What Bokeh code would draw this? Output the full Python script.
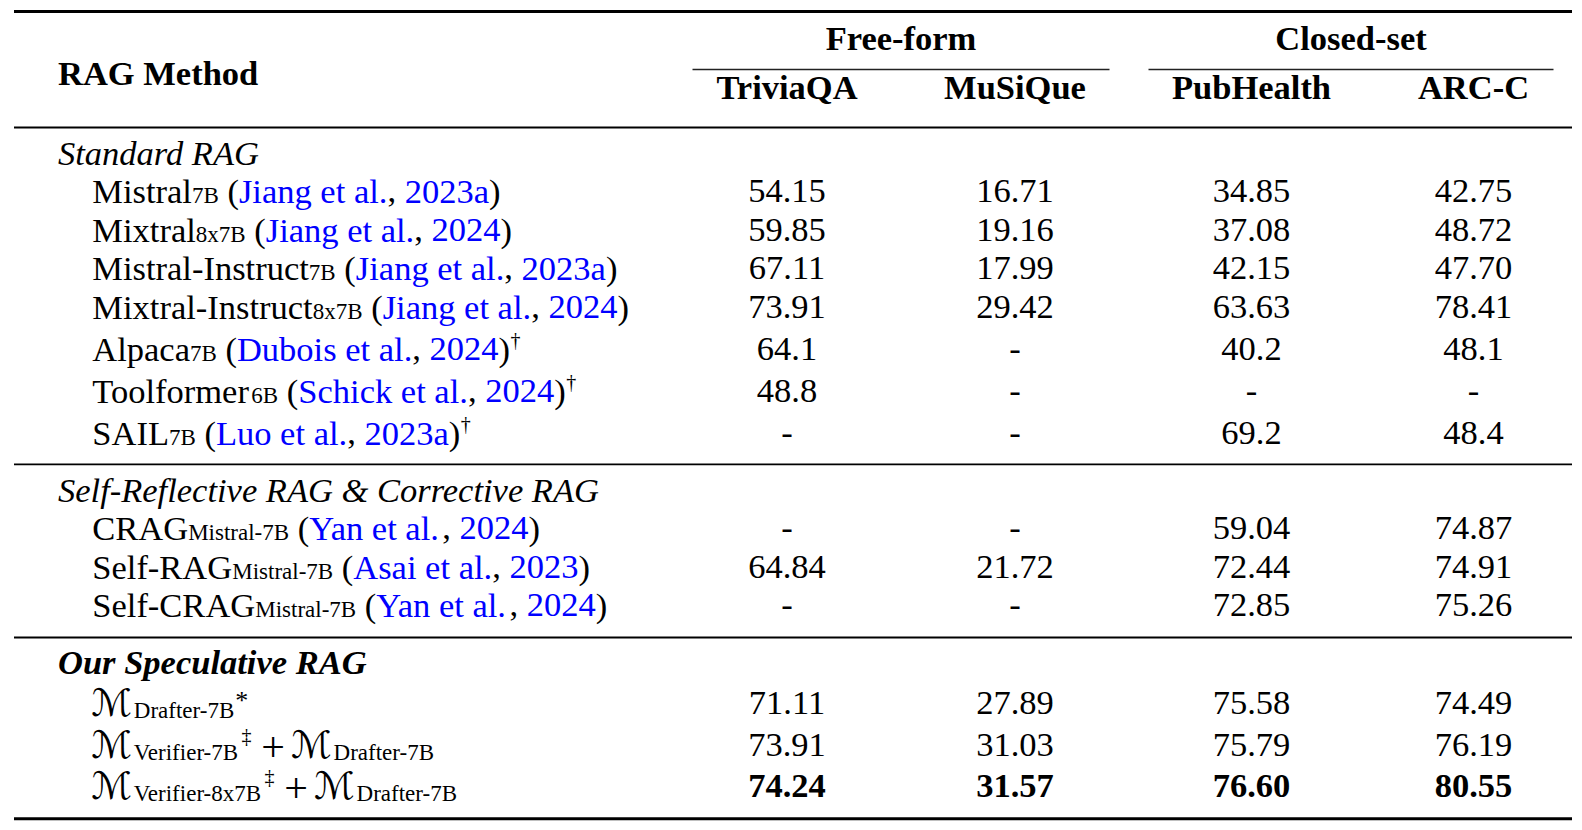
from bokeh.plotting import figure
from bokeh.models import Range1d, ColumnDataSource
from bokeh.core.properties import value
from bokeh.embed import file_html
from bokeh.resources import INLINE

# ---------------- data ----------------
group_headers = ["Free-form", "Closed-set"]
dataset_headers = ["TriviaQA", "MuSiQue", "PubHealth", "ARC-C"]
row_header = "RAG Method"
section_titles = ["Standard RAG", "Self-Reflective RAG & Corrective RAG", "Our Speculative RAG"]

baseline_models = ["Mistral", "Mixtral", "Mistral-Instruct", "Mixtral-Instruct", "Alpaca",
                   "Toolformer", "SAIL", "CRAG", "Self-RAG", "Self-CRAG"]
baseline_sizes = ["7B", "8x7B", "7B", "8x7B", "7B", "6B", "7B",
                  "Mistral-7B", "Mistral-7B", "Mistral-7B"]
cite_authors = ["Jiang et al.", "Jiang et al.", "Jiang et al.", "Jiang et al.", "Dubois et al.",
                "Schick et al.", "Luo et al.", "Yan et al.", "Asai et al.", "Yan et al."]
cite_years = ["2023a", "2024", "2023a", "2024", "2024", "2024", "2023a", "2024", "2023", "2024"]
cite_marks = ["", "", "", "", "†", "†", "†", "", "", ""]

ours_symbol = "ℳ"
ours_verifiers = ["", "Verifier-7B", "Verifier-8x7B"]
ours_verifier_marks = ["", "‡", "‡"]
ours_drafter = "Drafter-7B"
ours_drafter_mark = "*"

triviaqa = ["54.15", "59.85", "67.11", "73.91", "64.1", "48.8", "-", "-", "64.84", "-",
            "71.11", "73.91", "74.24"]
musique = ["16.71", "19.16", "17.99", "29.42", "-", "-", "-", "-", "21.72", "-",
           "27.89", "31.03", "31.57"]
pubhealth = ["34.85", "37.08", "42.15", "63.63", "40.2", "-", "69.2", "59.04", "72.44", "72.85",
             "75.58", "75.79", "76.60"]
arc_c = ["42.75", "48.72", "47.70", "78.41", "48.1", "-", "48.4", "74.87", "74.91", "75.26",
         "74.49", "76.19", "80.55"]
best_row = 12

# ---------------- layout ----------------
SERIF = "Liberation Serif"
F = 34.5     # main text size (px)
FS = 23.0    # subscript size
FD = 20.0    # dagger superscript size

TIMES = {' ': 250, '(': 333, ')': 333, ',': 250, '-': 333, '.': 250, '*': 500, '+': 564,
         '†': 500, '‡': 500,
         'A': 722, 'B': 667, 'C': 667, 'D': 722, 'E': 611, 'F': 556, 'G': 722, 'H': 722,
         'I': 333, 'J': 389, 'K': 722, 'L': 611, 'M': 889, 'N': 722, 'O': 722, 'P': 556,
         'Q': 722, 'R': 667, 'S': 556, 'T': 611, 'U': 722, 'V': 722, 'W': 944, 'X': 722,
         'Y': 722, 'Z': 611,
         'a': 444, 'b': 500, 'c': 444, 'd': 500, 'e': 444, 'f': 333, 'g': 500, 'h': 500,
         'i': 278, 'j': 278, 'k': 500, 'l': 278, 'm': 778, 'n': 500, 'o': 500, 'p': 500,
         'q': 500, 'r': 333, 's': 389, 't': 278, 'u': 500, 'v': 500, 'w': 722, 'x': 500,
         'y': 500, 'z': 444}
for d in "0123456789":
    TIMES[d] = 500


def tw(s, size):
    return sum(TIMES.get(c, 500) for c in s) * size / 1000.0


SPACE = tw(" ", F)
TEXT_DY = -12.2
X_LEFT = 57.5
X_IND = 91.8
RULE_X0, RULE_X1 = 13.5, 1571.5
COL_X = [786.5, 1014.5, 1251.0, 1473.0]
GROUP_SPANS = [(692.0, 1109.0), (1148.0, 1553.0)]
Y_GROUP, Y_RAGM, Y_COLH = 50.0, 85.0, 99.0
Y_CMID = 69.0
SECTION_Y = [165.0, 501.7, 673.3]
ROW_Y = [203.0, 241.5, 280.0, 319.0, 361.0, 403.0, 445.0,
         540.0, 578.3, 616.7,
         715.0, 756.5, 798.0]
HEAVY_RULES = [11.0, 818.3]
MID_RULES = [127.0, 463.8, 637.0]

STYLES = {
    'main':  dict(font=SERIF, size=F, fstyle='normal', color='black', align='left'),
    'cite':  dict(font=SERIF, size=F, fstyle='normal', color='#0000FF', align='left'),
    'sub':   dict(font=SERIF, size=FS, fstyle='normal', color='black', align='left'),
    'sup':   dict(font=SERIF, size=FD, fstyle='normal', color='black', align='left'),
    'star':  dict(font=SERIF, size=26, fstyle='normal', color='black', align='left'),
    'plus':  dict(font=SERIF, size=42, fstyle='normal', color='black', align='center'),
    'cal':   dict(font="DejaVu Sans", size=38, fstyle='normal', color='black', align='left'),
    'ital':  dict(font=SERIF, size=F, fstyle='italic', color='black', align='left'),
    'bital': dict(font=SERIF, size=F, fstyle='bold italic', color='black', align='left'),
    'bold':  dict(font=SERIF, size=F, fstyle='bold', color='black', align='left'),
    'boldc': dict(font=SERIF, size=F, fstyle='bold', color='black', align='center'),
    'numc':  dict(font=SERIF, size=F, fstyle='normal', color='black', align='center'),
    'numbc': dict(font=SERIF, size=F, fstyle='bold', color='black', align='center'),
}
segs = {k: dict(x=[], y=[], text=[]) for k in STYLES}


def put(style, x, y, text):
    segs[style]['x'].append(x)
    segs[style]['y'].append(y + TEXT_DY)
    segs[style]['text'].append(text)


# headers
for name, (a, b) in zip(group_headers, GROUP_SPANS):
    put('boldc', (a + b) / 2.0, Y_GROUP, name)
put('bold', X_LEFT, Y_RAGM, row_header)
for name, cx in zip(dataset_headers, COL_X):
    put('boldc', cx, Y_COLH, name)

# section titles
put('ital', X_LEFT, SECTION_Y[0], section_titles[0])
put('ital', X_LEFT, SECTION_Y[1], section_titles[1])
put('bital', X_LEFT, SECTION_Y[2], section_titles[2])

# baseline method names with citations
SUB_DY = 4.5
SUP_DY = -9.0
for i, model in enumerate(baseline_models):
    y = ROW_Y[i]
    x = X_IND
    put('main', x, y, model); x += tw(model, F)
    put('sub', x, y + SUB_DY, baseline_sizes[i]); x += tw(baseline_sizes[i], FS)
    x += SPACE
    put('main', x, y, "("); x += tw("(", F)
    put('cite', x, y, cite_authors[i]); x += tw(cite_authors[i], F)
    put('main', x, y, ","); x += tw(",", F) + SPACE
    put('cite', x, y, cite_years[i]); x += tw(cite_years[i], F)
    put('main', x, y, ")"); x += tw(")", F)
    if cite_marks[i]:
        put('sup', x + 0.5, y + SUP_DY, cite_marks[i])

# our methods
CAL_ADV = 42.5
CAL_SUB_DY = 7.5
n_base = len(baseline_models)
for j, ver in enumerate(ours_verifiers):
    y = ROW_Y[n_base + j]
    x = X_IND - 1.0
    if ver:
        put('cal', x, y, ours_symbol); x += CAL_ADV
        put('sub', x, y + CAL_SUB_DY, ver); x += tw(ver, FS)
        put('sup', x + 0.5, y + SUP_DY, ours_verifier_marks[j]); x += tw(ours_verifier_marks[j], FD)
        put('plus', x + 22.0, y + 2.0, "+"); x += 40.0
    put('cal', x, y, ours_symbol); x += CAL_ADV
    put('sub', x, y + CAL_SUB_DY, ours_drafter); x += tw(ours_drafter, FS)
    if not ver:
        put('star', x + 0.5, y - 3.0, ours_drafter_mark)

# scores
for cx, col in zip(COL_X, [triviaqa, musique, pubhealth, arc_c]):
    for i, v in enumerate(col):
        put('numbc' if i == best_row else 'numc', cx, ROW_Y[i], v)

# ---------------- figure ----------------
W, H = 1582, 830
p = figure(width=W, height=H, x_range=Range1d(0, W), y_range=Range1d(H, 0),
           output_backend="svg", toolbar_location=None, min_border=0,
           x_axis_type=None, y_axis_type=None, outline_line_color=None,
           background_fill_color="white", border_fill_color="white")
p.grid.visible = False

p.segment(x0=[RULE_X0] * 2, x1=[RULE_X1] * 2, y0=HEAVY_RULES, y1=HEAVY_RULES,
          line_color="black", line_width=3)
p.segment(x0=[RULE_X0] * 3, x1=[RULE_X1] * 3, y0=MID_RULES, y1=MID_RULES,
          line_color="black", line_width=1.8)
p.segment(x0=[a for a, b in GROUP_SPANS], x1=[b for a, b in GROUP_SPANS],
          y0=[Y_CMID] * 2, y1=[Y_CMID] * 2, line_color="#222222", line_width=1.3)

for key, st in STYLES.items():
    d = segs[key]
    if not d['x']:
        continue
    p.text(x='x', y='y', text='text', source=ColumnDataSource(d),
           text_font=value(st['font']), text_font_size=value(f"{st['size']}px"),
           text_font_style=st['fstyle'], text_color=st['color'],
           text_align=st['align'], text_baseline="alphabetic")

open("out.html", "w").write(file_html(p, INLINE))
